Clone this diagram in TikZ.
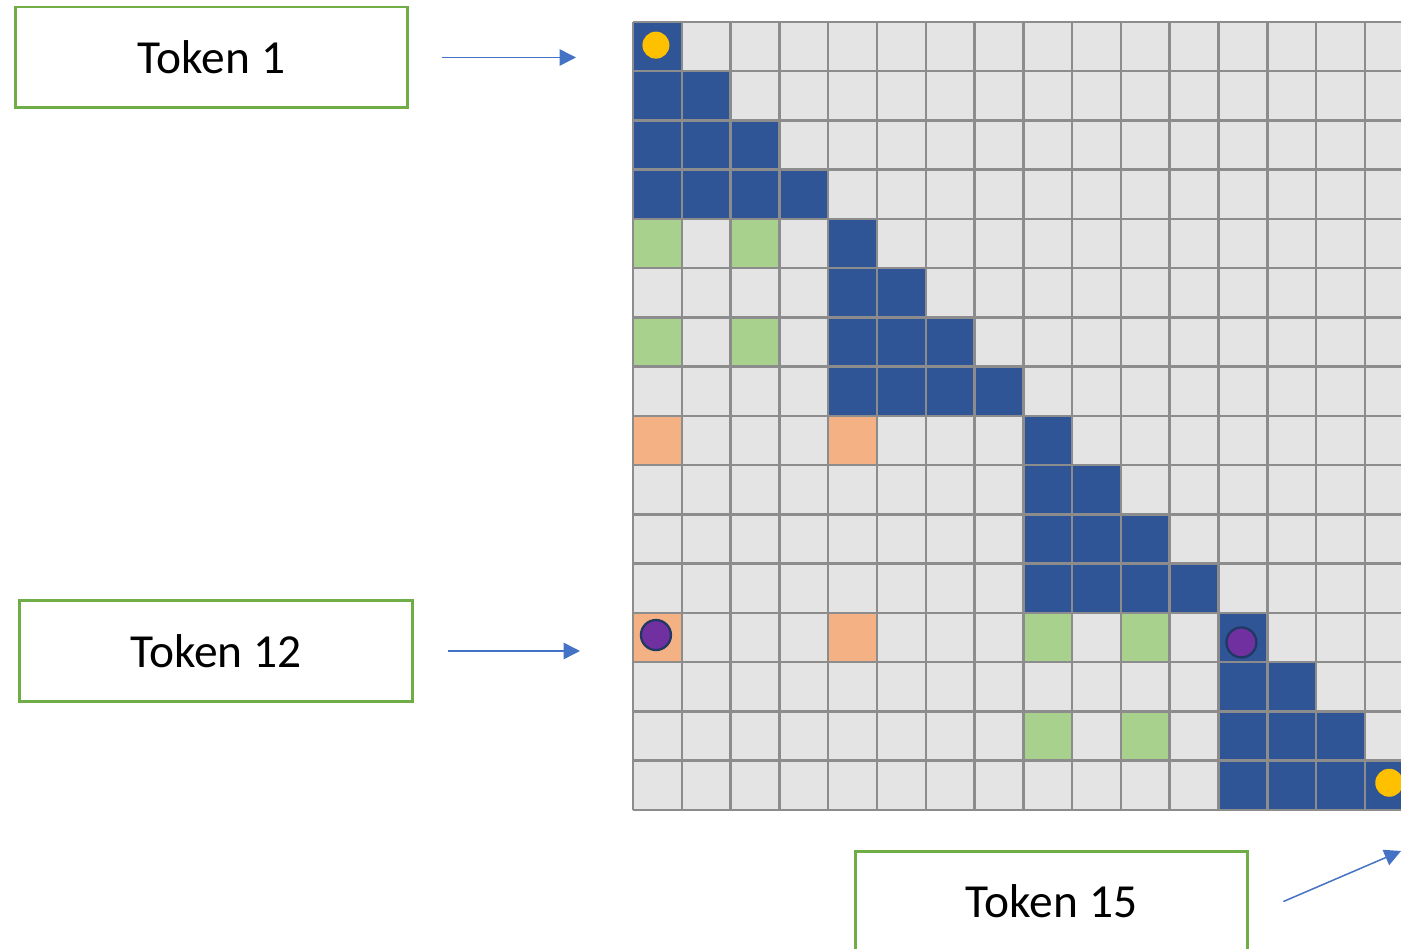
\documentclass[tikz,border=0pt]{standalone}
\usepackage{fontspec}
\setmainfont{Carlito}
\usepackage{tikz}
\usetikzlibrary{arrows.meta, positioning}
\definecolor{cellblue}{HTML}{2F5597}
\definecolor{cellgray}{HTML}{E4E4E4}
\definecolor{cellgreen}{HTML}{A9D18E}
\definecolor{cellorange}{HTML}{F4B183}
\definecolor{linegray}{HTML}{8C8C8C}
\definecolor{boxgreen}{HTML}{70AD47}
\definecolor{arrowblue}{HTML}{4472C4}
\definecolor{dotyellow}{HTML}{FFC000}
\definecolor{dotpurple}{HTML}{7030A0}
\definecolor{dotrim}{HTML}{203864}

\begin{document}
\begin{tikzpicture}[x=0.02cm, y=-0.02cm,
    tokbox/.style={draw=boxgreen, line width=1.7pt, minimum width=7.86cm,
      minimum height=2.02cm, inner sep=0pt, font=\fontsize{27}{31}\selectfont},
    ptr/.style={draw=arrowblue, line width=0.85pt,
      -{Triangle[length=0.33cm, width=0.33cm]}},
    gridline/.style={draw=linegray, line width=1.4pt}]
    \clip (0,0) rectangle (1401,949);

    % token boxes
    \node[tokbox] (tok1) at (211.5,57.5) {Token 1};
    \node[tokbox] (tok12) at (216,651) {Token 12};
    \node[tokbox] (tok15) at (1051.5,901.5) {Token 15};

    % attention mask
    \begin{scope}[shift={(633,22)}, x=0.976cm, y=-0.985cm]
        \fill[cellgray] (0,0) rectangle (16,16);
        \foreach \b in {0,...,3}
            \foreach \r in {0,...,3}
                \foreach \c in {0,...,\r}
                    \fill[cellblue] (4*\b+\c,4*\b+\r) rectangle ++(1,1);
        \foreach \c/\r in {0/4,2/4,0/6,2/6,8/12,10/12,8/14,10/14}
            \fill[cellgreen] (\c,\r) rectangle ++(1,1);
        \foreach \c/\r in {0/8,4/8,0/12,4/12}
            \fill[cellorange] (\c,\r) rectangle ++(1,1);
        \foreach \i in {0,...,16} {
            \draw[gridline] (\i,0) -- (\i,16);
            \draw[gridline] (0,\i) -- (16,\i);
        }
        \fill[dotyellow] (0.47,0.47) circle[radius=0.27cm];
        \fill[dotyellow] (15.5,15.45) circle[radius=0.28cm];
        \filldraw[fill=dotpurple, draw=dotrim, line width=1.3pt] (0.47,12.45) circle[radius=0.3cm];
        \filldraw[fill=dotpurple, draw=dotrim, line width=1.3pt] (12.47,12.6) circle[radius=0.3cm];
    \end{scope}

    % pointers
    \coordinate (p1) at (576,57.5);
    \coordinate (p12) at (580,651);
    \coordinate (p15) at (1401,851);
    \draw[ptr, shorten <=0.66cm] (tok1.east) -- (p1);
    \draw[ptr, shorten <=0.68cm] (tok12.east) -- (p12);
    \draw[ptr] ([xshift=0.68cm]tok15.east) -- (p15);
\end{tikzpicture}
\end{document}
